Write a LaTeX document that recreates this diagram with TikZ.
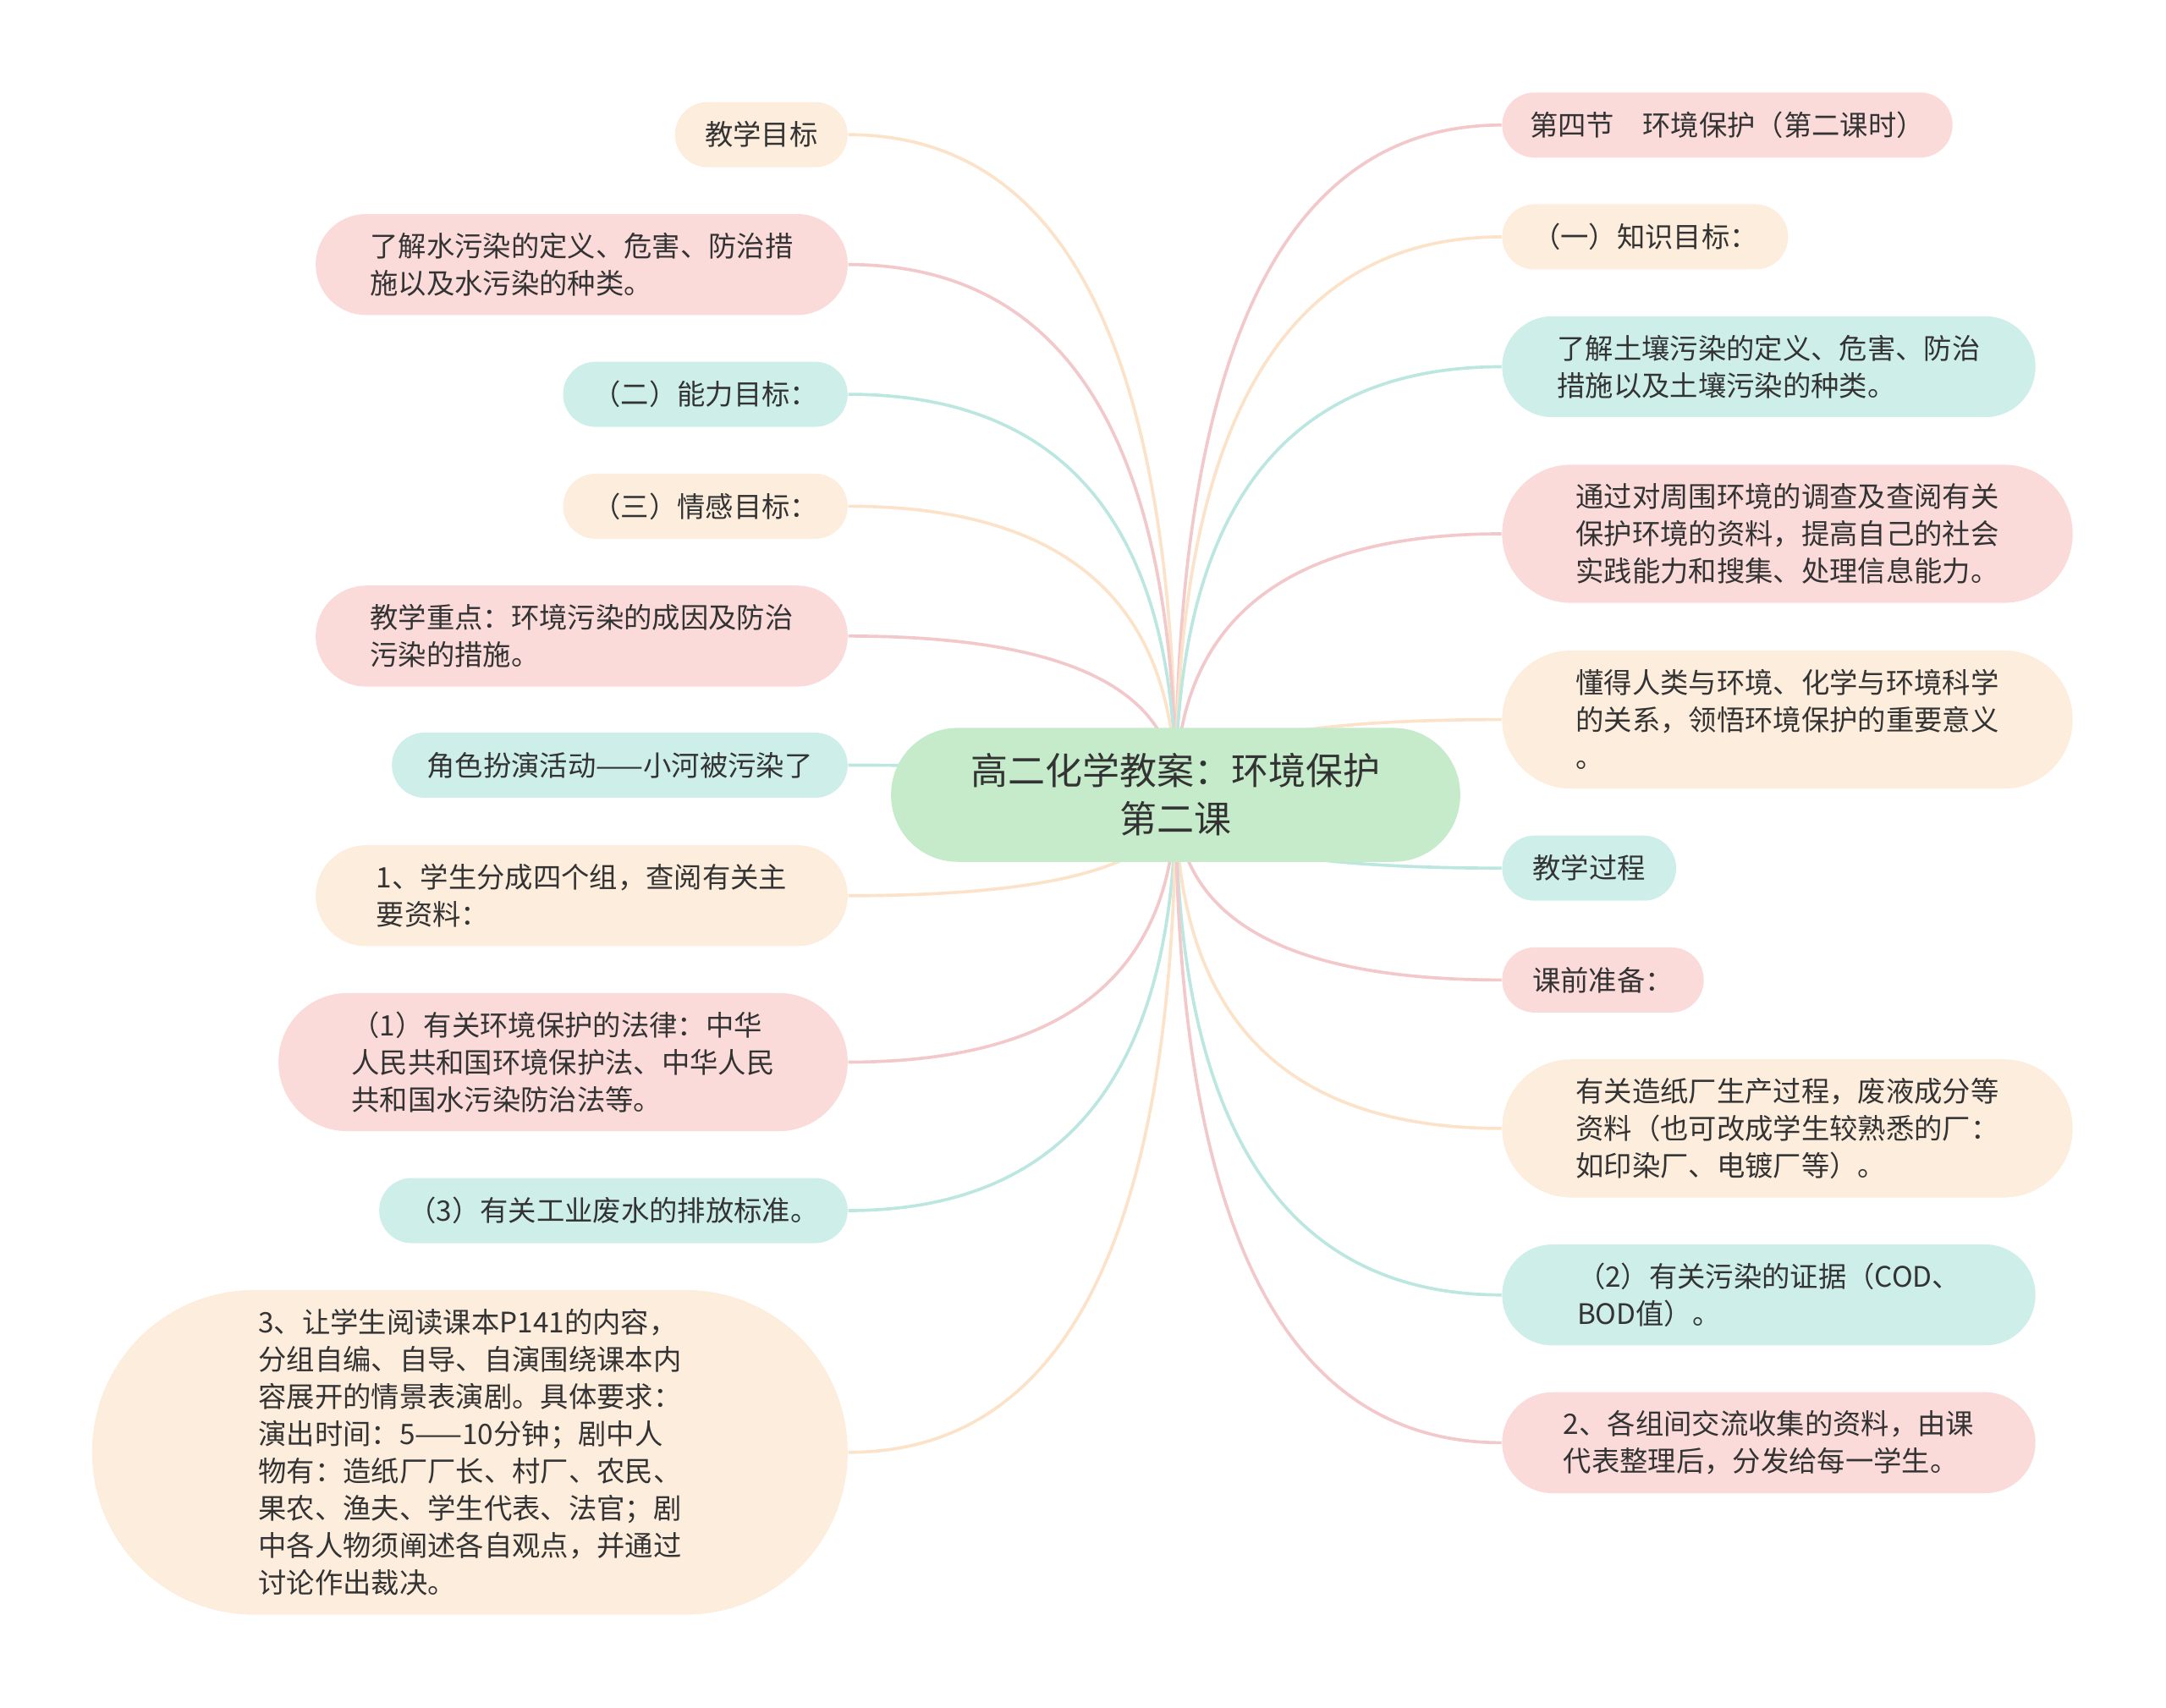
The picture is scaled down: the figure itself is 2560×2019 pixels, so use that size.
\documentclass[tikz,border=0pt]{standalone}
\usepackage{fontspec}
\setmainfont{Noto Sans CJK SC}
\usetikzlibrary{calc,backgrounds}

\definecolor{pkfill}{HTML}{FADBDA}
\definecolor{pefill}{HTML}{FDEDDD}
\definecolor{tefill}{HTML}{CEEFE9}
\definecolor{rootfill}{HTML}{C5EBCA}
\definecolor{pkline}{HTML}{F2C8CA}
\definecolor{peline}{HTML}{FBE2C8}
\definecolor{teline}{HTML}{BCE7E0}
\definecolor{txt}{HTML}{333333}

\begin{document}
\begin{tikzpicture}[x=0.3pt,y=0.3pt,yscale=-1,xscale=1,
  leaf/.style={text=txt,align=left,inner sep=0pt,font=\fontsize{10}{13.2}\selectfont},
  one/.style={leaf,minimum height=23.1pt,rounded corners=11.5pt},
  two/.style={leaf,minimum height=35.8pt,rounded corners=17.8pt},
  three/.style={leaf,minimum height=49pt,rounded corners=24.4pt},
  pklink/.style={draw=pkline,line width=1.1pt},
  pelink/.style={draw=peline,line width=1.1pt},
  telink/.style={draw=teline,line width=1.1pt}]
\useasboundingbox (0,0) rectangle (2560,2019);

% Root Node
\node [fill=rootfill,text=txt,align=center,inner sep=0pt,minimum width=201.8pt,minimum height=47.5pt,rounded corners=23.6pt,font=\fontsize{13.2}{17.1}\selectfont] (root) at (1389.5,939.6) {高二化学教案：环境保护\\第二课};

% Text Node
\node [one,fill=pefill,anchor=east,minimum width=61.2pt] (aim) at (1002.5,159.2) {教学目标};
% Text Node
\node [two,fill=pkfill,anchor=east,minimum width=188.6pt] (water) at (1002.5,312.7) {了解水污染的定义、危害、防治措\\施以及水污染的种类。};
% Text Node
\node [one,fill=tefill,anchor=east,minimum width=100.9pt] (ability) at (1002.5,466.1) {（二）能力目标：};
% Text Node
\node [one,fill=pefill,anchor=east,minimum width=100.9pt] (emotion) at (1002.5,598.4) {（三）情感目标：};
% Text Node
\node [two,fill=pkfill,anchor=east,minimum width=188.6pt] (focus) at (1002.5,751.9) {教学重点：环境污染的成因及防治\\污染的措施。};
% Text Node
\node [one,fill=tefill,anchor=east,minimum width=161.6pt] (roleplay) at (1002.5,904.5) {角色扮演活动——小河被污染了};
% Text Node
\node [two,fill=pefill,anchor=east,minimum width=188.6pt] (groups) at (1002.5,1058.8) {1、学生分成四个组，查阅有关主\\要资料：};
% Text Node
\node [three,fill=pkfill,anchor=east,minimum width=201.8pt] (laws) at (1002.5,1255.5) {（1）有关环境保护的法律：中华\\人民共和国环境保护法、中华人民\\共和国水污染防治法等。};
% Text Node
\node [one,fill=tefill,anchor=east,minimum width=166.1pt] (standard) at (1002.5,1431) {（3）有关工业废水的排放标准。};
% Text Node
\node [leaf,fill=pefill,anchor=east,minimum width=267.9pt,minimum height=115.1pt,rounded corners=57.4pt] (drama) at (1002.5,1716.8) {3、让学生阅读课本P141的内容，\\分组自编、自导、自演围绕课本内\\容展开的情景表演剧。具体要求：\\演出时间：5——10分钟；剧中人\\物有：造纸厂厂长、村厂、农民、\\果农、渔夫、学生代表、法官；剧\\中各人物须阐述各自观点，并通过\\讨论作出裁决。};

% Text Node
\node [one,fill=pkfill,anchor=west,minimum width=159.7pt] (section) at (1774.7,147.8) {第四节　环境保护（第二课时）};
% Text Node
\node [one,fill=pefill,anchor=west,minimum width=101.4pt] (knowledge) at (1774.7,280) {（一）知识目标：};
% Text Node
\node [two,fill=tefill,anchor=west,minimum width=189.1pt] (soil) at (1774.7,433.5) {了解土壤污染的定义、危害、防治\\措施以及土壤污染的种类。};
% Text Node
\node [three,fill=pkfill,anchor=west,minimum width=202.3pt] (survey) at (1774.7,631) {通过对周围环境的调查及查阅有关\\保护环境的资料，提高自己的社会\\实践能力和搜集、处理信息能力。};
% Text Node
\node [three,fill=pefill,anchor=west,minimum width=202.3pt] (relation) at (1774.7,850.6) {懂得人类与环境、化学与环境科学\\的关系，领悟环境保护的重要意义\\。};
% Text Node
\node [one,fill=tefill,anchor=west,minimum width=61.7pt] (process) at (1774.7,1026.2) {教学过程};
% Text Node
\node [one,fill=pkfill,anchor=west,minimum width=71.5pt] (prepare) at (1774.7,1158.4) {课前准备：};
% Text Node
\node [three,fill=pefill,anchor=west,minimum width=202.3pt] (paper) at (1774.7,1333.9) {有关造纸厂生产过程，废液成分等\\资料（也可改成学生较熟悉的厂：\\如印染厂、电镀厂等）。};
% Text Node
\node [two,fill=tefill,anchor=west,minimum width=189.1pt] (evidence) at (1774.7,1530.7) {（2）有关污染的证据（COD、\\BOD值）。};
% Text Node
\node [two,fill=pkfill,anchor=west,minimum width=189.1pt] (exchange) at (1774.7,1705.4) {2、各组间交流收集的资料，由课\\代表整理后，分发给每一学生。};

\begin{scope}[on background layer]
%Curve Lines
\draw [pelink] (root.center) .. controls ($(root.center)!2/3!(root.center |- aim.east)$) and ($(aim.east)!2/3!(root.center |- aim.east)$) .. (aim.east);
%Curve Lines
\draw [pklink] (root.center) .. controls ($(root.center)!2/3!(root.center |- water.east)$) and ($(water.east)!2/3!(root.center |- water.east)$) .. (water.east);
%Curve Lines
\draw [telink] (root.center) .. controls ($(root.center)!2/3!(root.center |- ability.east)$) and ($(ability.east)!2/3!(root.center |- ability.east)$) .. (ability.east);
%Curve Lines
\draw [pelink] (root.center) .. controls ($(root.center)!2/3!(root.center |- emotion.east)$) and ($(emotion.east)!2/3!(root.center |- emotion.east)$) .. (emotion.east);
%Curve Lines
\draw [pklink] (root.center) .. controls ($(root.center)!2/3!(root.center |- focus.east)$) and ($(focus.east)!2/3!(root.center |- focus.east)$) .. (focus.east);
%Curve Lines
\draw [telink] (root.center) .. controls ($(root.center)!2/3!(root.center |- roleplay.east)$) and ($(roleplay.east)!2/3!(root.center |- roleplay.east)$) .. (roleplay.east);
%Curve Lines
\draw [pelink] (root.center) .. controls ($(root.center)!2/3!(root.center |- groups.east)$) and ($(groups.east)!2/3!(root.center |- groups.east)$) .. (groups.east);
%Curve Lines
\draw [pklink] (root.center) .. controls ($(root.center)!2/3!(root.center |- laws.east)$) and ($(laws.east)!2/3!(root.center |- laws.east)$) .. (laws.east);
%Curve Lines
\draw [telink] (root.center) .. controls ($(root.center)!2/3!(root.center |- standard.east)$) and ($(standard.east)!2/3!(root.center |- standard.east)$) .. (standard.east);
%Curve Lines
\draw [pelink] (root.center) .. controls ($(root.center)!2/3!(root.center |- drama.east)$) and ($(drama.east)!2/3!(root.center |- drama.east)$) .. (drama.east);

%Curve Lines
\draw [pklink] (root.center) .. controls ($(root.center)!2/3!(root.center |- section.west)$) and ($(section.west)!2/3!(root.center |- section.west)$) .. (section.west);
%Curve Lines
\draw [pelink] (root.center) .. controls ($(root.center)!2/3!(root.center |- knowledge.west)$) and ($(knowledge.west)!2/3!(root.center |- knowledge.west)$) .. (knowledge.west);
%Curve Lines
\draw [telink] (root.center) .. controls ($(root.center)!2/3!(root.center |- soil.west)$) and ($(soil.west)!2/3!(root.center |- soil.west)$) .. (soil.west);
%Curve Lines
\draw [pklink] (root.center) .. controls ($(root.center)!2/3!(root.center |- survey.west)$) and ($(survey.west)!2/3!(root.center |- survey.west)$) .. (survey.west);
%Curve Lines
\draw [pelink] (root.center) .. controls ($(root.center)!2/3!(root.center |- relation.west)$) and ($(relation.west)!2/3!(root.center |- relation.west)$) .. (relation.west);
%Curve Lines
\draw [telink] (root.center) .. controls ($(root.center)!2/3!(root.center |- process.west)$) and ($(process.west)!2/3!(root.center |- process.west)$) .. (process.west);
%Curve Lines
\draw [pklink] (root.center) .. controls ($(root.center)!2/3!(root.center |- prepare.west)$) and ($(prepare.west)!2/3!(root.center |- prepare.west)$) .. (prepare.west);
%Curve Lines
\draw [pelink] (root.center) .. controls ($(root.center)!2/3!(root.center |- paper.west)$) and ($(paper.west)!2/3!(root.center |- paper.west)$) .. (paper.west);
%Curve Lines
\draw [telink] (root.center) .. controls ($(root.center)!2/3!(root.center |- evidence.west)$) and ($(evidence.west)!2/3!(root.center |- evidence.west)$) .. (evidence.west);
%Curve Lines
\draw [pklink] (root.center) .. controls ($(root.center)!2/3!(root.center |- exchange.west)$) and ($(exchange.west)!2/3!(root.center |- exchange.west)$) .. (exchange.west);
\end{scope}

\end{tikzpicture}
\end{document}
